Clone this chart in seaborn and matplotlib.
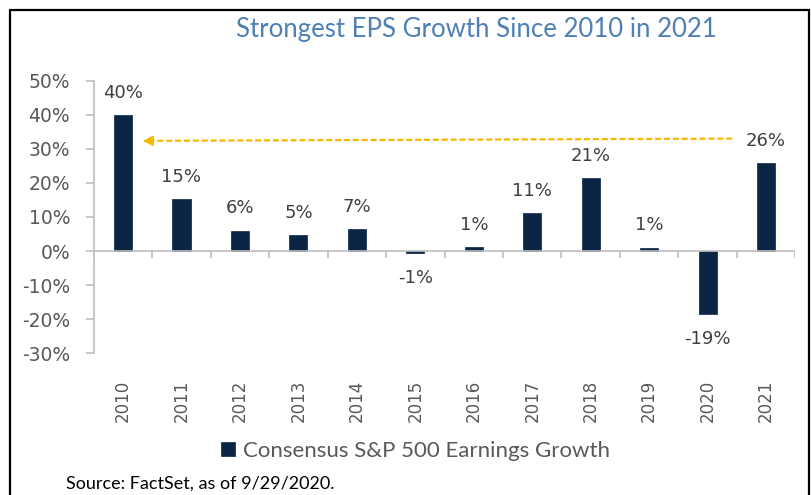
import matplotlib
matplotlib.use('Agg')
import matplotlib.pyplot as plt
import seaborn as sns
import pandas as pd
from matplotlib.lines import Line2D

# Data
years = ['2010', '2011', '2012', '2013', '2014', '2015',
         '2016', '2017', '2018', '2019', '2020', '2021']
growth = [40.0, 15.3, 6.0, 4.7, 6.5, -0.5, 1.1, 11.1, 21.4, 1.0, -18.6, 25.8]
bar_labels = ['40%', '15%', '6%', '5%', '7%', '-1%',
              '1%', '11%', '21%', '1%', '-19%', '26%']
y_ticks = [-30, -20, -10, 0, 10, 20, 30, 40, 50]

navy = '#0b2545'
gold = '#f5b800'
gray_txt = '#595959'
spine_gray = '#bfbfbf'

df = pd.DataFrame({'Year': years, 'Growth': growth})

sns.set_style('white')
plt.rcParams['font.family'] = ['DejaVu Sans']

fig = plt.figure(figsize=(8.12, 4.95), dpi=100)
ax = fig.add_axes([0.1155, 0.2863, 0.864, 0.5507])

sns.barplot(data=df, x='Year', y='Growth', color=navy, width=0.31,
            saturation=1, edgecolor=navy, linewidth=0.5,
            label='Consensus S&P 500 Earnings Growth', ax=ax)

ax.set_xlim(-0.5, len(years) - 0.5)
ax.set_ylim(-30, 50)
ax.set_yticks(y_ticks)
ax.set_yticklabels([f'{t}%' for t in y_ticks])
ax.set_xlabel('')
ax.set_ylabel('')

# Spines: only the left one, plus a zero line with category ticks
for side in ['top', 'right', 'bottom']:
    ax.spines[side].set_visible(False)
ax.spines['left'].set_color(spine_gray)
ax.spines['left'].set_linewidth(1.2)
ax.axhline(0, color=spine_gray, lw=1.2, zorder=1)
ax.vlines([i - 0.5 for i in range(len(years) + 1)], -2, 0, color=spine_gray, lw=1.2)

ax.tick_params(axis='y', left=True, length=6, width=1.2, color=spine_gray,
               pad=11, labelsize=13.5, labelcolor=gray_txt)
ax.tick_params(axis='x', bottom=False, length=0, pad=19, labelsize=12,
               labelcolor=gray_txt, rotation=90)

# Value labels above / below bars
for i, (v, lab) in enumerate(zip(growth, bar_labels)):
    off = 16 if v >= 0 else -18
    ax.annotate(lab, (i, v), xytext=(0, off), textcoords='offset points',
                ha='center', va='center', fontsize=13, color='#404040')

# Dashed gold arrow from 2021 back to 2010
ax.plot([10.42, 0.45], [33.0, 32.35], color=gold, lw=1.6, ls=(0, (2.7, 1.3)))
ax.annotate('', xy=(0.29, 32.3), xytext=(0.5, 32.35),
            arrowprops=dict(arrowstyle='-|>', color=gold, lw=1, mutation_scale=16))

# Legend under the year labels
leg = ax.legend(loc='center', bbox_to_anchor=(0.512, 0.089),
                bbox_transform=fig.transFigure, frameon=False,
                prop={'family': 'Lato', 'size': 16},
                handlelength=0.63, handleheight=0.63, handletextpad=0.35)
for t in leg.get_texts():
    t.set_color(gray_txt)

# Title and source note
fig.text(476 / 812, 1 - 30 / 495, 'Strongest EPS Growth Since 2010 in 2021',
         ha='center', va='center', fontsize=18.5, color='#4f7fb5', family='Lato')
fig.text(66 / 812, 1 - 484 / 495, 'Source: FactSet, as of 9/29/2020.',
         ha='left', va='center', fontsize=13, color='black', family='Lato')

# Black frame around the picture (open at the bottom)
fig.add_artist(Line2D([10.5 / 812, 10.5 / 812], [0, 1 - 9.5 / 495],
                      transform=fig.transFigure, color='black', lw=1.6))
fig.add_artist(Line2D([809.5 / 812, 809.5 / 812], [0, 1 - 9.5 / 495],
                      transform=fig.transFigure, color='black', lw=1.6))
fig.add_artist(Line2D([10.5 / 812, 809.5 / 812], [1 - 9.5 / 495, 1 - 9.5 / 495],
                      transform=fig.transFigure, color='black', lw=1.6))

fig.savefig('out.png', dpi=100)
